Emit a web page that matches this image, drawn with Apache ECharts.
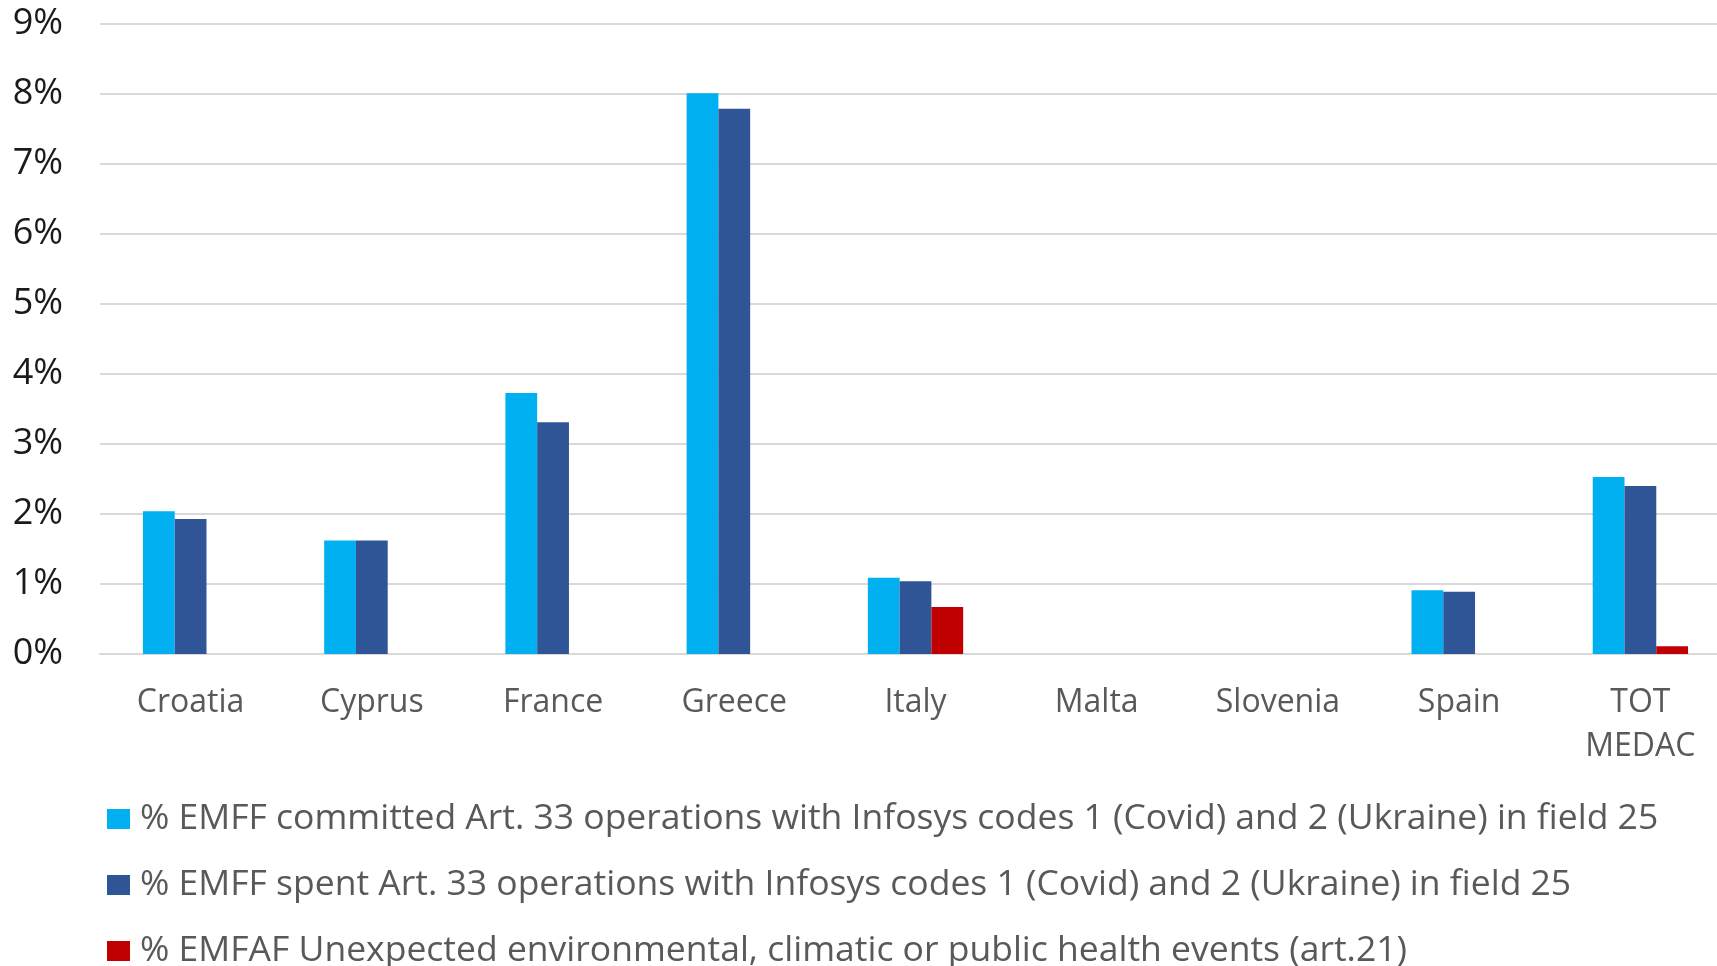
<!DOCTYPE html>
<html>
<head>
<meta charset="utf-8">
<script src="https://cdn.jsdelivr.net/npm/echarts@6/dist/echarts.min.js"></script>
<style>
  html, body { margin: 0; padding: 0; background: #fff; }
  #chart { width: 1717px; height: 966px; }
</style>
</head>
<body>
<div id="chart"></div>
<script>
  // categories and values (percent)
  const categories = ['Croatia', 'Cyprus', 'France', 'Greece', 'Italy', 'Malta', 'Slovenia', 'Spain', 'TOT\nMEDAC']
  const committed = [2.04, 1.62, 3.73, 8.01, 1.09, 0, 0, 0.91, 2.53]
  const spent = [1.93, 1.62, 3.31, 7.79, 1.04, 0, 0, 0.89, 2.40]
  const emfaf = [0, 0, 0, 0, 0.67, 0, 0, 0, 0.11]
  const seriesNames = [
    '% EMFF committed Art. 33 operations with Infosys codes 1 (Covid) and 2 (Ukraine) in field 25',
    '% EMFF spent Art. 33 operations with Infosys codes 1 (Covid) and 2 (Ukraine) in field 25',
    '% EMFAF Unexpected environmental, climatic or public health events (art.21)'
  ]
  const yTicks = [0, 1, 2, 3, 4, 5, 6, 7, 8, 9]

  const font = '"Open Sans", "Noto Sans", sans-serif'
  const colors = ['#00b0f0', '#2f5597', '#c00000']

  let myChart = echarts.init(document.getElementById('chart'), null, {renderer: 'canvas'})
  let option = {
    animation: false,
    color: colors,
    textStyle: {fontFamily: font},
    // plot runs past the right edge, like the cropped original
    grid: {left: 100, top: 24, bottom: 312, right: -14, containLabel: false, outerBoundsMode: 'none'},
    legend: {
      orient: 'vertical',
      left: 102,
      top: 794,
      height: 240,
      itemWidth: 23,
      itemHeight: 20,
      itemGap: 26,
      icon: 'rect',
      textStyle: {fontSize: 35.5, lineHeight: 40, color: '#595959', fontFamily: font, padding: [0, 0, 0, 5]},
      data: seriesNames
    },
    xAxis: {
      type: 'category',
      data: categories,
      axisTick: {show: false},
      axisLine: {lineStyle: {color: '#d9d9d9', width: 2}},
      axisLabel: {fontSize: 32, color: '#595959', margin: 27, lineHeight: 44, fontFamily: font}
    },
    yAxis: {
      type: 'value',
      min: yTicks[0],
      max: yTicks[yTicks.length - 1],
      interval: 1,
      axisLine: {show: false},
      axisTick: {show: false},
      axisLabel: {fontSize: 36, color: '#1a1a1a', margin: 37, fontFamily: font, formatter: v => v + '%'},
      splitLine: {lineStyle: {color: '#d9d9d9', width: 2}}
    },
    series: [
      {name: seriesNames[0], type: 'bar', data: committed, barGap: '0%', barCategoryGap: '47.4%'},
      {name: seriesNames[1], type: 'bar', data: spent, barGap: '0%', barCategoryGap: '47.4%'},
      {name: seriesNames[2], type: 'bar', data: emfaf, barGap: '0%', barCategoryGap: '47.4%'}
    ]
  }
  myChart.setOption(option)
</script>
</body>
</html>
